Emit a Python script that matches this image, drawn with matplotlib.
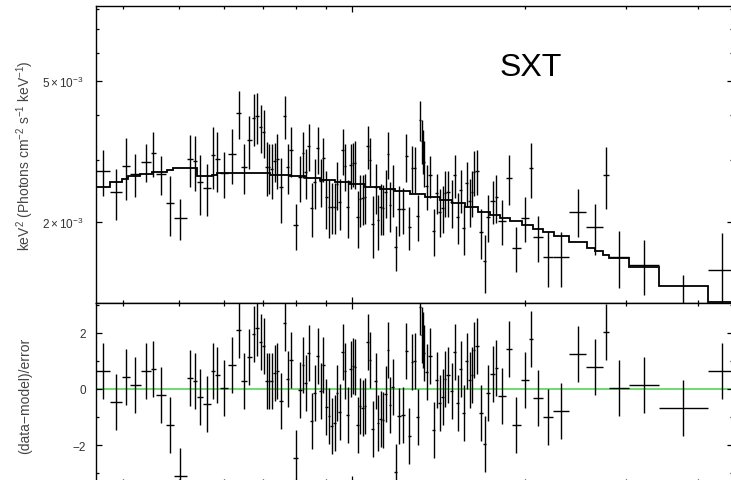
import numpy as np
import matplotlib.pyplot as plt
from matplotlib.ticker import FixedLocator, FixedFormatter, NullFormatter

plt.rcParams['font.family'] = ['Liberation Sans', 'DejaVu Sans']
plt.rcParams['mathtext.fontset'] = 'custom'
plt.rcParams['mathtext.rm'] = 'Liberation Sans'
plt.rcParams['mathtext.it'] = 'Liberation Sans:italic'

# channel bin edges (keV)
edges = [0.3588, 0.3795, 0.3982, 0.4111, 0.4296, 0.4472, 0.4562, 0.4749, 0.4903, 0.5166,
         0.5291, 0.5374, 0.5507, 0.5687, 0.5777, 0.5896, 0.6088, 0.6286, 0.6413, 0.6568,
         0.6701, 0.6796, 0.6892, 0.6987, 0.7072, 0.7143, 0.7215, 0.7303, 0.7376, 0.7465,
         0.7585, 0.7693, 0.7785, 0.7910, 0.8070, 0.8185, 0.8266, 0.8368, 0.8468, 0.8570,
         0.8674, 0.8778, 0.8867, 0.8975, 0.9083, 0.9175, 0.9286, 0.9380, 0.9474, 0.9588,
         0.9684, 0.9783, 0.9900, 1.0000, 1.0080, 1.0182, 1.0284, 1.0387, 1.0493, 1.0598,
         1.0704, 1.0812, 1.0943, 1.1053, 1.1164, 1.1277, 1.1391, 1.1505, 1.1597, 1.1714,
         1.1856, 1.2000, 1.2168, 1.2366, 1.2516, 1.2665, 1.2795, 1.2925, 1.3106, 1.3208,
         1.3262, 1.3315, 1.3422, 1.3584, 1.3775, 1.3968, 1.4137, 1.4307, 1.4452, 1.4598,
         1.4805, 1.5013, 1.5194, 1.5380, 1.5564, 1.5753, 1.5943, 1.6136, 1.6266, 1.6396,
         1.6629, 1.6897, 1.7135, 1.7412, 1.7726, 1.7942, 1.8534, 1.8979, 1.9676, 2.0316,
         2.0645, 2.1486, 2.2341, 2.3840, 2.5573, 2.7317, 2.7987, 3.0322, 3.4193, 4.1604,
         4.6456]

# unfolded spectrum, units of 1e-3 keV^2 (photons cm^-2 s^-1 keV^-1)
flux = [2.78, 2.43, 2.88, 2.73, 2.95, 3.13, 2.73, 2.26, 2.05, 3.01,
        2.97, 2.59, 2.50, 3.09, 3.01, 2.75, 3.11, 4.06, 2.86, 3.41,
        3.93, 3.98, 3.71, 3.59, 2.86, 2.86, 2.82, 2.97, 3.01, 2.51,
        3.98, 2.86, 3.19, 1.96, 2.68, 3.13, 2.77, 3.28, 2.19, 2.59,
        3.23, 2.61, 3.03, 2.35, 2.21, 2.21, 2.21, 2.56, 2.27, 3.19,
        2.88, 2.21, 2.90, 2.93, 2.93, 2.07, 2.32, 2.34, 2.35, 3.28,
        2.99, 1.97, 2.51, 2.03, 2.20, 2.19, 2.43, 3.11, 2.23, 2.48,
        1.70, 2.17, 2.17, 3.07, 1.94, 2.84, 2.84, 2.08, 3.88, 3.39,
        3.19, 2.95, 2.53, 2.71, 1.89, 2.42, 2.14, 2.19, 2.42, 2.43,
        2.27, 2.71, 2.07, 2.46, 1.92, 2.58, 2.29, 2.43, 2.77, 2.79,
        1.87, 1.55, 2.07, 2.29, 2.35, 2.01, 2.66, 1.69, 2.05, 2.84,
        1.81, 1.59, 1.59, 2.14, 1.93, 2.71, 1.59, 1.51, 1.17, 1.46]

flux_err = [0.42, 0.40, 0.58, 0.38, 0.36, 0.45, 0.35, 0.44, 0.27, 0.50,
            0.52, 0.50, 0.42, 0.61, 0.58, 0.41, 0.55, 0.63, 0.46, 0.58,
            0.66, 0.65, 0.57, 0.55, 0.50, 0.46, 0.50, 0.38, 0.53, 0.52,
            0.55, 0.46, 0.51, 0.29, 0.40, 0.47, 0.45, 0.49, 0.38, 0.42,
            0.49, 0.40, 0.43, 0.44, 0.41, 0.36, 0.36, 0.40, 0.37, 0.48,
            0.44, 0.41, 0.42, 0.42, 0.45, 0.38, 0.39, 0.38, 0.38, 0.45,
            0.47, 0.39, 0.41, 0.36, 0.36, 0.35, 0.38, 0.47, 0.36, 0.41,
            0.25, 0.35, 0.32, 0.47, 0.27, 0.43, 0.42, 0.31, 0.50, 0.48,
            0.45, 0.44, 0.37, 0.37, 0.29, 0.32, 0.33, 0.33, 0.36, 0.36,
            0.35, 0.38, 0.34, 0.34, 0.31, 0.37, 0.35, 0.36, 0.40, 0.40,
            0.30, 0.29, 0.31, 0.32, 0.37, 0.29, 0.43, 0.25, 0.30, 0.50,
            0.27, 0.28, 0.28, 0.33, 0.32, 0.54, 0.29, 0.27, 0.25, 0.40]

# (data-model)/error
resid = [0.64, -0.46, 0.43, 0.14, 0.64, 0.71, -0.21, -1.29, -3.10, 0.39,
         0.29, -0.29, -0.54, 0.64, 0.50, 0.04, 0.86, 2.10, 0.29, 1.14,
         1.96, 2.17, 1.69, 1.55, 0.30, 0.27, 0.27, 0.56, 0.65, -0.42,
         2.35, 0.36, 1.04, -2.48, -0.04, 0.86, 0.20, 1.29, -1.13, -0.15,
         1.19, -0.06, 0.87, -0.63, -0.95, -1.31, -1.20, -0.14, -0.81, 1.33,
         0.65, -0.92, 0.71, 0.83, 0.77, -1.29, -0.60, -0.69, -0.60, 1.69,
         1.05, -1.43, 0.30, -1.23, -1.07, -1.10, -0.18, 1.39, -0.57, 0.06,
         -2.98, -0.95, -0.92, 1.37, -1.67, 0.98, 1.01, -1.01, 2.92, 1.94,
         1.75, 1.27, 0.62, 1.19, -1.45, 0.33, -0.50, -0.30, 0.36, 0.51,
         -0.06, 1.31, -0.51, 0.71, -0.87, 1.01, 0.33, 0.50, 1.39, 1.52,
         -0.87, -1.96, -0.15, 0.54, 0.75, -0.24, 1.43, -1.27, 0.32, 1.79,
         -0.33, -0.99, -0.80, 1.25, 0.80, 2.02, 0.04, 0.14, -0.68, 0.65]

# folded model, drawn as steps
model_edges = [0.3588, 0.3795, 0.3982, 0.4079, 0.4279, 0.4490, 0.4768, 0.4884, 0.5374, 0.5710,
               0.5825, 0.7201, 0.7801, 0.8284, 0.8797, 0.9342, 0.9920, 1.0534, 1.1186, 1.1878,
               1.2614, 1.3395, 1.4223, 1.4924, 1.5721, 1.6562, 1.7378, 1.8088, 1.8827, 1.9754,
               2.0645, 2.1486, 2.2447, 2.3840, 2.5621, 2.6457, 2.7317, 2.7987, 3.0322, 3.4193,
               4.1604, 4.6456]
model_flux = [2.51, 2.59, 2.64, 2.69, 2.73, 2.77, 2.80, 2.84, 2.69, 2.71,
              2.75, 2.71, 2.69, 2.66, 2.62, 2.59, 2.56, 2.51, 2.48, 2.45,
              2.40, 2.35, 2.30, 2.26, 2.20, 2.14, 2.09, 2.05, 2.01, 1.96,
              1.91, 1.87, 1.83, 1.76, 1.69, 1.65, 1.61, 1.58, 1.49, 1.32,
              1.19]

edges = np.array(edges)
lo, hi = edges[:-1], edges[1:]
ctr = np.sqrt(lo * hi)
xerr = [ctr - lo, hi - ctr]
flux = np.array(flux) * 1e-3
flux_err = np.array(flux_err) * 1e-3
model_flux = np.array(model_flux) * 1e-3

W, H = 731, 481
fig = plt.figure(figsize=(W / 100, H / 100), dpi=100)
ax1 = fig.add_axes([96 / W, 1 - 304 / H, (733 - 96) / W, (304 - 7) / H])
ax2 = fig.add_axes([96 / W, 1 - 483 / H, (733 - 96) / W, (483 - 304) / H], sharex=ax1)

ax1.errorbar(ctr, flux, xerr=xerr, yerr=flux_err, fmt='none', ecolor='black',
             elinewidth=1.0, capsize=0)
ax1.stairs(model_flux, model_edges, baseline=None, color='black', lw=1.3)

ax2.axhline(0, color='#6fdc6f', lw=1.4, zorder=1)
ax2.errorbar(ctr, resid, xerr=xerr, yerr=1.0, fmt='none', ecolor='black',
             elinewidth=1.0, capsize=0, zorder=2)

ax1.set_xscale('log')
ax1.set_yscale('log')
ax1.set_xlim(0.3588, 4.60)
ax1.set_ylim(1.18e-3, 8.15e-3)
ax2.set_ylim(-3.32, 3.07)

x_major = [1.0]
x_minor = [0.4, 0.5, 0.6, 0.7, 0.8, 0.9, 2, 3, 4]
for ax in (ax1, ax2):
    ax.xaxis.set_major_locator(FixedLocator(x_major))
    ax.xaxis.set_minor_locator(FixedLocator(x_minor))
    ax.xaxis.set_major_formatter(NullFormatter())
    ax.xaxis.set_minor_formatter(NullFormatter())
    ax.tick_params(which='both', direction='in', top=True, right=True,
                   labelbottom=False, color='black', width=0.9)
    ax.tick_params(which='major', length=4.3)
    ax.tick_params(which='minor', length=2.4)
    for s in ax.spines.values():
        s.set_linewidth(1.0)

y_major = [2e-3, 5e-3]
y_labels = [r'$2\times10^{-3}$', r'$5\times10^{-3}$']
y_minor = [3e-3, 4e-3, 6e-3, 7e-3, 8e-3]
ax1.yaxis.set_major_locator(FixedLocator(y_major))
ax1.yaxis.set_major_formatter(FixedFormatter(y_labels))
ax1.yaxis.set_minor_locator(FixedLocator(y_minor))
ax1.yaxis.set_minor_formatter(NullFormatter())
ax1.tick_params(axis='y', labelsize=8.5, labelcolor='#333333', pad=9)

r_major = [-2, 0, 2]
r_labels = ['\u22122', '0', '2']
ax2.yaxis.set_major_locator(FixedLocator(r_major))
ax2.yaxis.set_major_formatter(FixedFormatter(r_labels))
ax2.yaxis.set_minor_locator(FixedLocator([-3, -1, 1, 3]))
ax2.tick_params(axis='y', labelsize=8.5, labelcolor='#333333', pad=7)

fig.text(25 / W, 1 - 155.5 / H, r'keV$^2$ (Photons cm$^{-2}$ s$^{-1}$ keV$^{-1}$)',
         rotation=90, ha='center', va='center', fontsize=10, color='#444444')
fig.text(25 / W, 1 - 396 / H, '(data\u2212model)/error',
         rotation=90, ha='center', va='center', fontsize=10, color='#444444')
fig.text(531 / W, 1 - 68 / H, 'SXT', fontsize=23, ha='center', va='center')

fig.savefig('out.png', dpi=100)
